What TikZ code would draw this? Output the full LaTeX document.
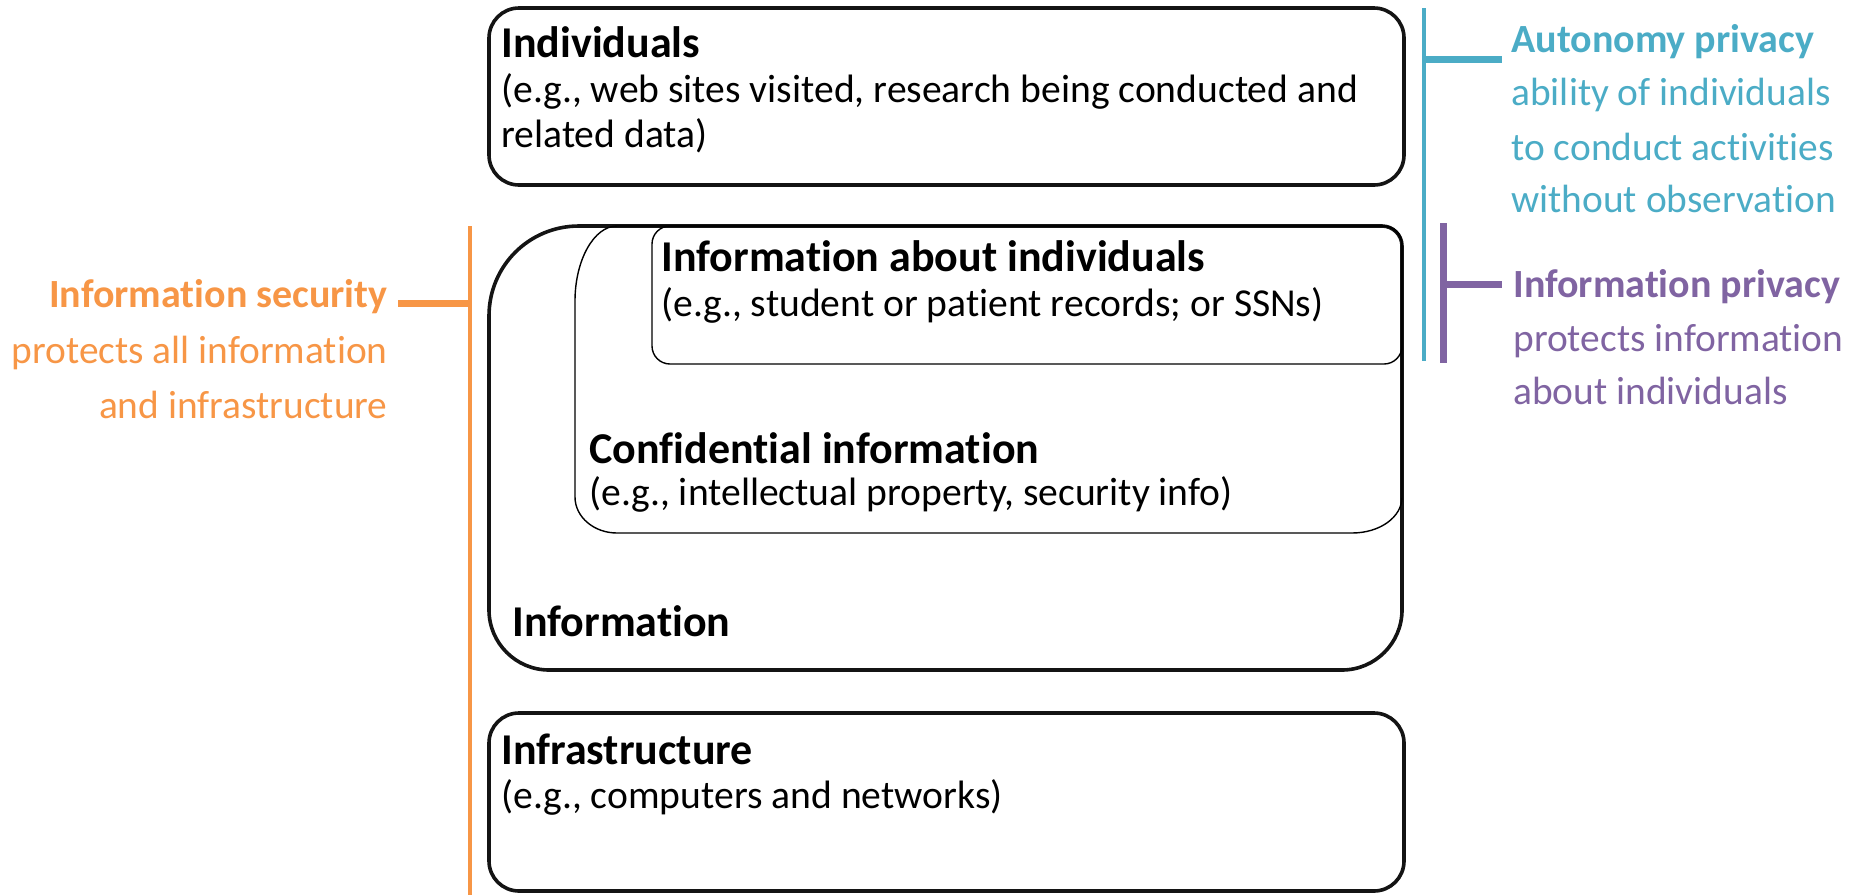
\documentclass[tikz,border=0pt]{standalone}
\usepackage{fontspec}
\setmainfont{Carlito}[Ligatures=NoCommon]
\definecolor{secorange}{HTML}{F79646}
\definecolor{autteal}{HTML}{4BACC6}
\definecolor{infpurple}{HTML}{8064A2}
\begin{document}
\begin{tikzpicture}[x=0.5pt,y=-0.5pt,
  outerbox/.style={draw=black!92, line width=1.8pt},
  innerbox/.style={draw=black, line width=0.7pt},
  ttl/.style={inner sep=0pt, font=\fontsize{22}{26}\selectfont\bfseries},
  txt/.style={inner sep=0pt, font=\fontsize{19.8}{24}\selectfont},
  lab/.style={inner sep=0pt, font=\fontsize{19.7}{24}\selectfont},
  labb/.style={inner sep=0pt, font=\fontsize{20}{24}\selectfont\bfseries},
  bracket/.style={line width=2pt},
  tick/.style={line width=3.5pt}]
\useasboundingbox (0,0) rectangle (1858,895);

% ---------- boxes ----------
\node[outerbox, rounded corners=15pt, minimum width=457.5pt, minimum height=88.5pt, inner sep=0pt] (indbox) at (946.5,96.5) {};
\node[outerbox, rounded corners=15pt, minimum width=457.5pt, minimum height=89pt, inner sep=0pt] (infrabox) at (946.5,802) {};

% Information (outer) box
\draw[outerbox] (489,316) .. controls (489,266) and (529,226) .. (579,226)
  -- (1382,226) .. controls (1393,226) and (1402,235) .. (1402,246)
  -- (1402,610) .. controls (1402,643) and (1375,670) .. (1342,670)
  -- (549,670) .. controls (516,670) and (489,643) .. (489,610) -- cycle;

% Confidential information box
\draw[innerbox] (575,301) .. controls (575,260) and (594,226) .. (617,226)
  -- (1382,226) .. controls (1393,226) and (1402,235) .. (1402,246)
  -- (1402,497) .. controls (1402,517) and (1380,533) .. (1352,533)
  -- (617,533) .. controls (594,533) and (575,517) .. (575,497) -- cycle;

% Information about individuals box
\node[innerbox, rounded corners=9pt, minimum width=375pt, minimum height=69pt, inner sep=0pt] (aboutbox) at (1027,295) {};

% ---------- box texts ----------
\node[ttl, anchor=base west] (indT) at (501,57) {Individuals};
\node[txt, anchor=base west] (indA) at (501,102) {(e.g., web sites visited, research being conducted and};
\node[txt, anchor=base west] (indB) at (501,147) {related data)};

\node[ttl, anchor=base west] (aboutT) at (661,271) {Information about individuals};
\node[txt, anchor=base west] (aboutA) at (661,316) {(e.g., student or patient records; or SSNs)};

\node[ttl, anchor=base west] (confT) at (589,463) {Confidential information};
\node[txt, anchor=base west] (confA) at (589,505) {(e.g., intellectual property, security info)};

\node[ttl, anchor=base west] (infoT) at (512,636) {Information};

\node[ttl, anchor=base west] (infraT) at (501,764) {Infrastructure};
\node[txt, anchor=base west] (infraA) at (501,808) {(e.g., computers and networks)};

% ---------- brackets ----------
\coordinate (osTop) at (470,226);
\coordinate (osBot) at (470,895);
\coordinate (osJoin) at (470,303);
\coordinate (osEnd) at (398,303);
\draw[bracket, secorange] (osTop) -- (osBot);
\draw[tick, secorange] (osJoin) -- (osEnd);

\coordinate (apTop) at (1424,8);
\coordinate (apBot) at (1424,361);
\coordinate (apJoin) at (1424,59);
\coordinate (apEnd) at (1502,59);
\draw[bracket, autteal] (apTop) -- (apBot);
\draw[tick, autteal] (apJoin) -- (apEnd);

\coordinate (ipTop) at (1443,223);
\coordinate (ipBot) at (1443,363);
\coordinate (ipJoin) at (1443,284);
\coordinate (ipEnd) at (1502,284);
\draw[tick, infpurple] (ipTop) -- (ipBot);
\draw[tick, infpurple] (ipJoin) -- (ipEnd);

% ---------- labels ----------
\node[labb, text=secorange, anchor=base east] (isT) at (388,307) {Information security};
\node[lab, text=secorange, anchor=base east] (isA) at (388,363) {protects all information};
\node[lab, text=secorange, anchor=base east] (isB) at (388,418) {and infrastructure};

\node[labb, text=autteal, anchor=base west] (apT) at (1511,52) {Autonomy privacy};
\node[lab, text=autteal, anchor=base west] (apA) at (1511,105) {ability of individuals};
\node[lab, text=autteal, anchor=base west] (apB) at (1511,160) {to conduct activities};
\node[lab, text=autteal, anchor=base west] (apC) at (1511,212) {without observation};

\node[labb, text=infpurple, anchor=base west] (ipT) at (1513,297) {Information privacy};
\node[lab, text=infpurple, anchor=base west] (ipA) at (1513,351) {protects information};
\node[lab, text=infpurple, anchor=base west] (ipB) at (1513,404) {about individuals};
\end{tikzpicture}
\end{document}
